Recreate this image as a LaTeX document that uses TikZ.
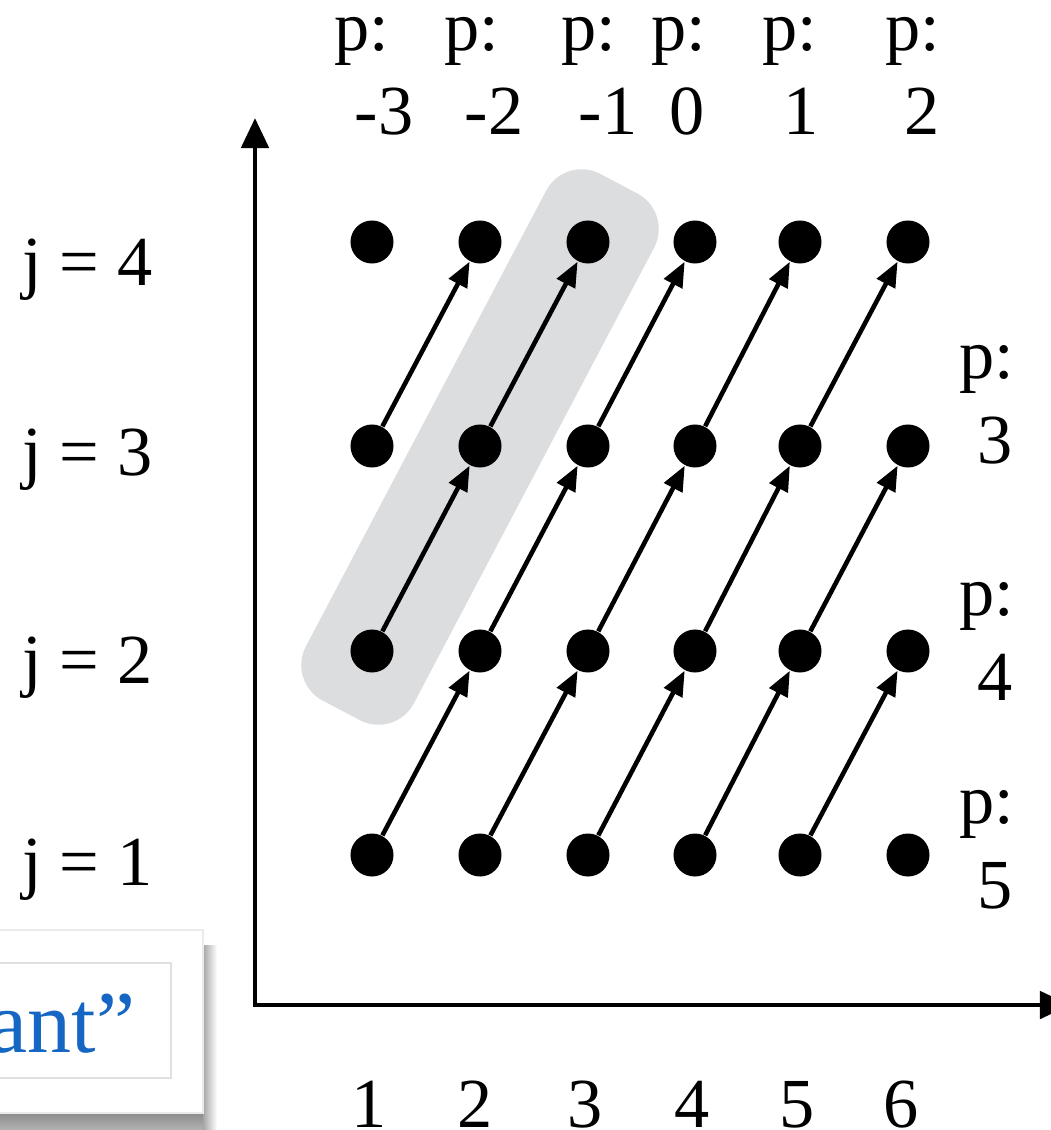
\documentclass[tikz,border=0pt]{standalone}
\usepackage{fontspec}
\setmainfont{Liberation Serif}
\usepackage{tikz}
\usetikzlibrary{arrows.meta}

\definecolor{hlgray}{RGB}{220,221,223}
\definecolor{txtblue}{RGB}{22,102,196}

\begin{document}
\begin{tikzpicture}[x=0.01cm, y=-0.01cm, >={Triangle[length=0.25cm,width=0.2cm]},
    dot/.style={circle, fill=black, inner sep=0pt, minimum size=0.43cm},
    lbl/.style={font=\fontsize{20}{24}\selectfont, inner sep=0pt, anchor=base},
    arr/.style={->, line width=1.3pt},
    axis/.style={{Triangle[length=0.3cm,width=0.27cm]}-{Triangle[length=0.3cm,width=0.27cm]}, line width=1.4pt}]
    \useasboundingbox (0,0) rectangle (1050,1130);

    % 左下角被截去的文本框及其阴影
    \shade[left color=black!35, right color=white] (203,945) rectangle (217,1130);
    \shade[top color=black!45, bottom color=black!30] (-10,1113) rectangle (203,1130);
    \draw[black!8, fill=white] (-10,930) rectangle (203,1113);
    \draw[black!12, fill=white] (-10,963) rectangle (171,1078);
    \node[font=\fontsize{25}{30}\selectfont, text=txtblue, inner sep=0pt, anchor=base east] (quote) at (136,1052) {ant”};

    % 坐标轴
    \coordinate (O) at (255,1005);
    \coordinate (ytip) at (255,118);
    \coordinate (xtip) at (1070,1005);
    \draw[axis] (ytip) -- (O) -- (xtip);

    % 灰色高亮带
    \node[fill=hlgray, rounded corners=0.4cm, rotate=62.2, minimum width=5.95cm, minimum height=1.22cm, inner sep=0pt] (band) at (480,447) {};

    % 格点 d<i><j>
    \foreach \x [count=\i] in {372,480,588,695,800,908} {
        \foreach \y [count=\j] in {855,651,446,242} {
            \node[dot] (d\i\j) at (\x,\y) {};
        }
    }

    % 箭头 d<i><j> -> d<i+1><j+1>
    \foreach \i in {1,...,5} {
        \foreach \j in {1,2,3} {
            \pgfmathtruncatemacro{\ii}{\i+1}
            \pgfmathtruncatemacro{\jj}{\j+1}
            \draw[arr] (d\i\j) -- (d\ii\jj);
        }
    }

    % 左侧 j 标签
    \foreach \y [count=\j] in {885,683,475,285} {
        \node[lbl, anchor=base west] (j\j) at (22,\y) {j = \j};
    }

    % 顶部 p 标签
    \foreach \px/\nx/\v [count=\k] in {362/384/-3, 472/494/-2, 589/608/-1, 679/687/0, 790/801/1, 913/922/2} {
        \node[lbl] (ptop\k) at (\px,50) {p:};
        \node[lbl] (pval\k) at (\nx,134) {\v};
    }

    % 右侧 p 标签
    \foreach \v/\y in {3/378, 4/615, 5/823} {
        \node[lbl] (pright\v) at (987,\y) {p:};
        \node[lbl] (prval\v) at (995,\y+85) {\v};
    }

    % 底部刻度数字
    \foreach \x [count=\i] in {369,475,585,692,797,901} {
        \node[lbl] (xnum\i) at (\x,1127) {\i};
    }
\end{tikzpicture}
\end{document}
